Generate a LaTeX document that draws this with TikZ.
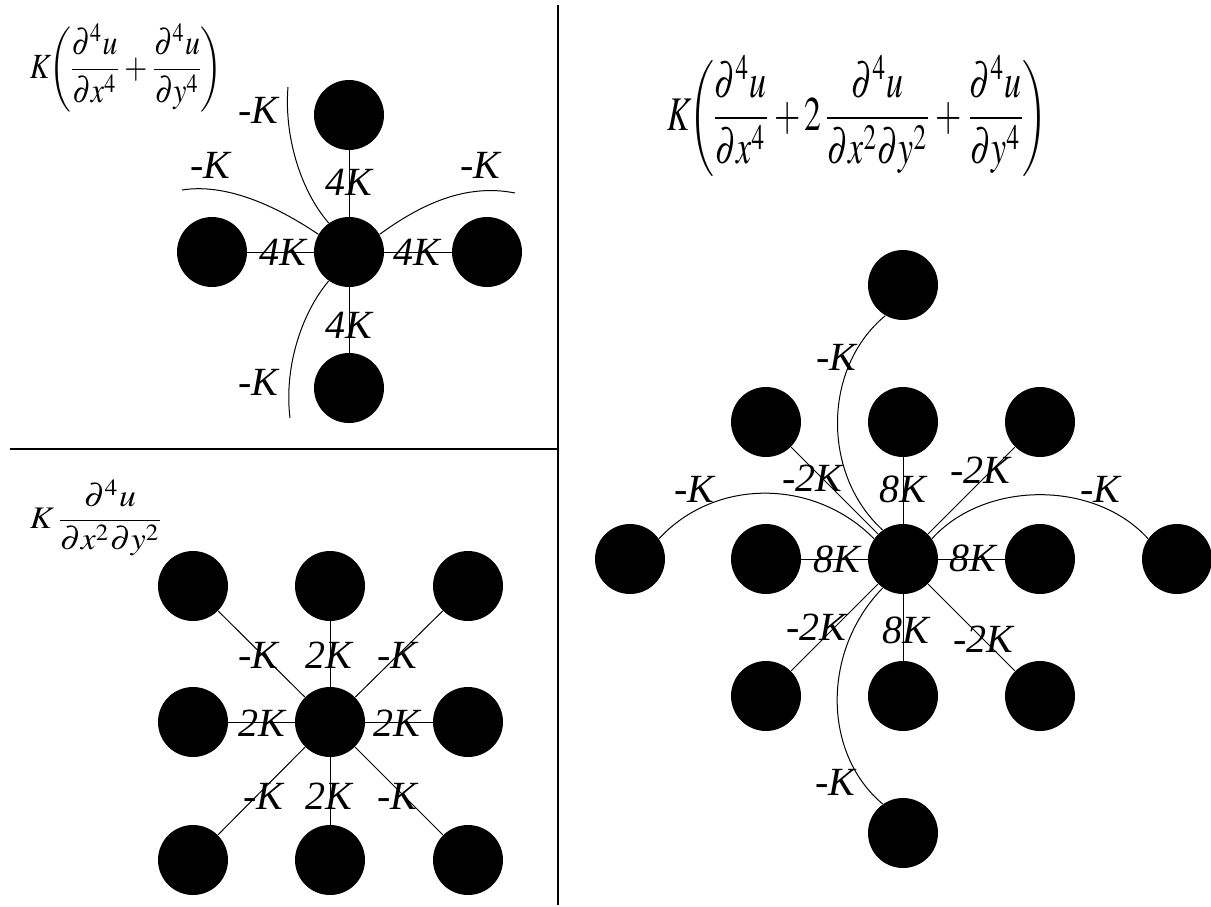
\documentclass[tikz,border=0pt]{standalone}
\usepackage{mathptmx}
\usepackage{fontspec}
\setmainfont{Liberation Serif}
\usepackage{graphicx}

\tikzset{
  dot/.style={circle, fill=black, minimum size=35pt, inner sep=0pt},
  lbl/.style={font=\fontsize{20}{23}\selectfont\itshape, inner sep=0pt},
  link/.style={line width=0.5pt},
  frame/.style={line width=0.8pt},
  formula/.style={inner sep=0pt},
}
% tight display formula
\newcommand{\tightmath}[1]{{\medmuskip=2mu\thinmuskip=1mu$\displaystyle #1$}}

\begin{document}
\begin{tikzpicture}[x=0.5pt, y=-0.5pt]
  \useasboundingbox (0,0) rectangle (1211,906);

  % panel borders
  \coordinate (hl) at (10,449);
  \coordinate (hr) at (558,449);
  \coordinate (vt) at (558,5);
  \coordinate (vb) at (558,905);
  \draw[frame] (hl) -- (hr);
  \draw[frame] (vt) -- (vb);

  % top left: K(u_xxxx + u_yyyy)
  \node[formula] (f1) at (126,68) {\resizebox*{96pt}{44pt}{\tightmath{K\mkern-2mu\left(\mkern-2mu\frac{\partial^4u}{\partial x^4}+\frac{\partial^4u}{\partial y^4}\mkern-2mu\right)}}};
  \node[dot] (c1) at (349,252) {};
  \node[dot] (t1) at (349,115) {};
  \node[dot] (b1) at (349,388) {};
  \node[dot] (l1) at (212,252) {};
  \node[dot] (r1) at (487,252) {};
  \draw[link] (t1) -- (c1);
  \draw[link] (c1) -- (b1);
  \draw[link] (l1) -- (c1);
  \draw[link] (c1) -- (r1);
  \node[lbl] (a1t) at (349,182) {4K};
  \node[lbl] (a1l) at (283,252) {4K};
  \node[lbl] (a1r) at (417,252) {4K};
  \node[lbl] (a1b) at (349,325) {4K};
  \coordinate (e1u) at (288,87);
  \coordinate (e1l) at (182,190);
  \coordinate (e1r) at (515,193);
  \coordinate (e1d) at (290,418);
  \draw[link] (c1.125) .. controls (300,190) and (284,135) .. (e1u);
  \draw[link] (c1.150) .. controls (275,205) and (225,183) .. (e1l);
  \draw[link] (c1.30) .. controls (420,205) and (465,183) .. (e1r);
  \draw[link] (c1.235) .. controls (300,315) and (284,370) .. (e1d);
  \node[lbl] (m1u) at (258,110) {-K};
  \node[lbl] (m1l) at (210,165) {-K};
  \node[lbl] (m1r) at (480,165) {-K};
  \node[lbl] (m1d) at (258,382) {-K};

  % bottom left: K u_xxyy
  \node[formula] (f2) at (97,518) {\resizebox*{67pt}{38pt}{\tightmath{K\,\frac{\partial^4u}{\partial x^2\partial y^2}}}};
  \node[dot] (c2) at (330,722) {};
  \node[dot] (nw2) at (193,586) {};
  \node[dot] (n2) at (330,586) {};
  \node[dot] (ne2) at (468,586) {};
  \node[dot] (w2) at (193,722) {};
  \node[dot] (e2) at (468,722) {};
  \node[dot] (sw2) at (193,860) {};
  \node[dot] (s2) at (330,860) {};
  \node[dot] (se2) at (468,860) {};
  \draw[link] (nw2) -- (c2);
  \draw[link] (n2) -- (c2);
  \draw[link] (ne2) -- (c2);
  \draw[link] (w2) -- (c2);
  \draw[link] (e2) -- (c2);
  \draw[link] (sw2) -- (c2);
  \draw[link] (s2) -- (c2);
  \draw[link] (se2) -- (c2);
  \node[lbl] (a2nw) at (258,655) {-K};
  \node[lbl] (a2n) at (329,655) {2K};
  \node[lbl] (a2ne) at (397,655) {-K};
  \node[lbl] (a2w) at (262,723) {2K};
  \node[lbl] (a2e) at (397,723) {2K};
  \node[lbl] (a2sw) at (263,796) {-K};
  \node[lbl] (a2s) at (329,796) {2K};
  \node[lbl] (a2se) at (397,796) {-K};

  % right: K(u_xxxx + 2u_xxyy + u_yyyy)
  \node[formula] (f3) at (857,116) {\resizebox*{190pt}{60pt}{\tightmath{K\mkern-2mu\left(\mkern-2mu\frac{\partial^4u}{\partial x^4}+2\,\frac{\partial^4u}{\partial x^2\partial y^2}+\frac{\partial^4u}{\partial y^4}\mkern-2mu\right)}}};
  \node[dot] (c3) at (903,559) {};
  \node[dot] (tt3) at (903,285) {};
  \node[dot] (nw3) at (766,422) {};
  \node[dot] (n3) at (903,422) {};
  \node[dot] (ne3) at (1040,422) {};
  \node[dot] (ww3) at (630,559) {};
  \node[dot] (w3) at (766,559) {};
  \node[dot] (e3) at (1040,559) {};
  \node[dot] (ee3) at (1177,559) {};
  \node[dot] (sw3) at (766,696) {};
  \node[dot] (s3) at (903,696) {};
  \node[dot] (se3) at (1040,696) {};
  \node[dot] (bb3) at (903,833) {};
  \draw[link] (nw3) -- (c3);
  \draw[link] (n3) -- (c3);
  \draw[link] (ne3) -- (c3);
  \draw[link] (w3) -- (c3);
  \draw[link] (e3) -- (c3);
  \draw[link] (sw3) -- (c3);
  \draw[link] (s3) -- (c3);
  \draw[link] (se3) -- (c3);
  \draw[link] (c3.125) .. controls (822,475) and (822,368) .. (tt3.240);
  \draw[link] (ww3.35) .. controls (715,478) and (814,478) .. (c3.145);
  \draw[link] (c3.35) .. controls (985,480) and (1095,480) .. (ee3.145);
  \draw[link] (c3.235) .. controls (822,650) and (822,753) .. (bb3.125);
  \node[lbl] (m3t) at (836,357) {-K};
  \node[lbl] (a3nw) at (812,478) {-2K};
  \node[lbl] (a3n) at (903,489) {8K};
  \node[lbl] (a3ne) at (980,470) {-2K};
  \node[lbl] (m3l) at (694,489) {-K};
  \node[lbl] (m3r) at (1100,489) {-K};
  \node[lbl] (a3w) at (837,559) {8K};
  \node[lbl] (a3e) at (973,558) {8K};
  \node[lbl] (a3sw) at (816,627) {-2K};
  \node[lbl] (a3s) at (906,630) {8K};
  \node[lbl] (a3se) at (983,639) {-2K};
  \node[lbl] (m3b) at (835,782) {-K};
\end{tikzpicture}
\end{document}
